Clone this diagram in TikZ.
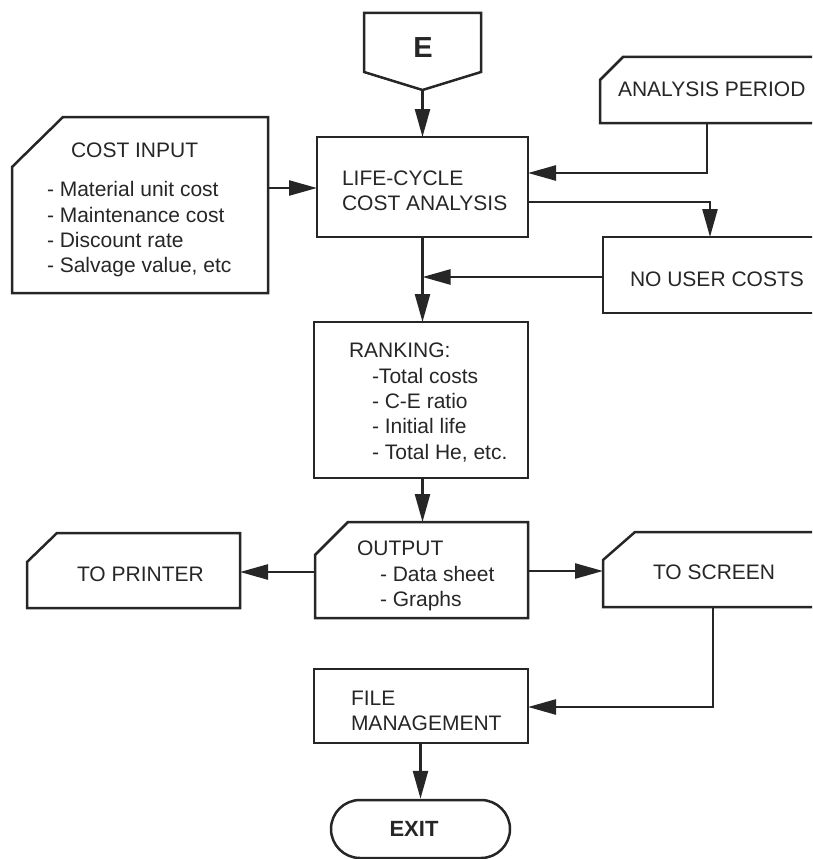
\documentclass[tikz,border=0pt]{standalone}
\usepackage{fontspec}
\setmainfont{Liberation Sans}
\usetikzlibrary{arrows.meta,calc}

\tikzset{
  box/.style={draw=none, inner sep=0pt, outer sep=0pt, anchor=north west},
  outline/.style={draw=black!85, line width=2.5pt, line join=miter},
  link/.style={draw=black!85, line width=2.5pt},
  arr/.style={link, -{Triangle[length=28pt,width=15pt]}},
  txt/.style={anchor=base west, inner sep=0pt, outer sep=0pt,
              font=\fontsize{21}{25}\selectfont, text=black!85},
}

% card shape: rectangle with the top-left corner cut off
\newcommand\cardbox[3]{%
  \draw[outline] ($(#1.north west)+(#2,0)$) -- (#1.north east) -- (#1.south east)
    -- (#1.south west) -- ($(#1.north west)+(0,#3)$) -- cycle;}

\begin{document}
\begin{tikzpicture}[x=1pt,y=-1pt]
\useasboundingbox (0,0) rectangle (812,859);
\clip (0,0) rectangle (812,859);

% ---- box frames -------------------------------------------------------
\node[box, minimum width=117pt, minimum height=77pt]  (E)     at (364,13)  {};
\node[box, minimum width=256pt, minimum height=176pt] (ci)    at (12,117)  {};
\node[box, minimum width=211pt, minimum height=100pt] (lcca)  at (317,137) {};
\node[box, minimum width=230pt, minimum height=66pt]  (ap)    at (600,57)  {};
\node[box, minimum width=230pt, minimum height=76pt]  (nuc)   at (603,237) {};
\node[box, minimum width=214pt, minimum height=156pt] (rank)  at (314,322) {};
\node[box, minimum width=213pt, minimum height=96pt]  (out)   at (315,522) {};
\node[box, minimum width=213pt, minimum height=75pt]  (prn)   at (27,533)  {};
\node[box, minimum width=230pt, minimum height=75pt]  (scr)   at (603,532) {};
\node[box, minimum width=214pt, minimum height=74pt]  (fm)    at (314,669) {};

% off-page connector E
\draw[outline] (E.north west) -- (E.north east) -- ($(E.north east)+(0,59)$)
  -- (E.south) -- ($(E.north west)+(0,59)$) -- cycle;
\node[inner sep=0pt, font=\bfseries\fontsize{29}{29}\selectfont, text=black!85] (elabel) at (423,48) {E};

\cardbox{ci}{51}{50}
\draw[outline] (lcca.north west) rectangle (lcca.south east);
\cardbox{ap}{23}{23}
\draw[outline] (nuc.north west) rectangle (nuc.south east);
\draw[outline] (rank.north west) rectangle (rank.south east);
\cardbox{out}{33}{33}
\cardbox{prn}{30}{29}
\cardbox{scr}{32}{28}
\draw[outline] (fm.north west) rectangle (fm.south east);

\node[draw=black!85, line width=2.5pt, rounded corners=29pt, minimum width=179pt,
      minimum height=58pt, inner sep=0pt] (exit) at (420.5,829) {};
\node[inner sep=0pt, font=\bfseries\fontsize{22}{22}\selectfont, text=black!85] (exitlabel) at (414,829) {EXIT};

% ---- texts --------------------------------------------------------------
\node[txt] (ci1) at (71,157) {COST INPUT};
\node[txt] (ci2) at (47,196) {- Material unit cost};
\node[txt] (ci3) at (47,222) {- Maintenance cost};
\node[txt] (ci4) at (47,247) {- Discount rate};
\node[txt] (ci5) at (47,272) {- Salvage value, etc};

\node[txt] (lc1) at (342,185) {LIFE-CYCLE};
\node[txt] (lc2) at (342,210) {COST ANALYSIS};

\node[txt] (ap1) at (618,96) {ANALYSIS PERIOD};
\node[txt] (nu1) at (630,286) {NO USER COSTS};

\node[txt] (rk1) at (349,357) {RANKING:};
\node[txt] (rk2) at (372,383) {-Total costs};
\node[txt] (rk3) at (372,408) {- C-E ratio};
\node[txt] (rk4) at (372,433) {- Initial life};
\node[txt] (rk5) at (372,459) {- Total He, etc.};

\node[txt] (ou1) at (357,555) {OUTPUT};
\node[txt] (ou2) at (380,581) {- Data sheet};
\node[txt] (ou3) at (380,606) {- Graphs};

\node[txt] (pr1) at (77,581) {TO PRINTER};
\node[txt] (sc1) at (653,579) {TO SCREEN};

\node[txt] (fm1) at (351,705) {FILE};
\node[txt] (fm2) at (351,730) {MANAGEMENT};

% ---- connectors ---------------------------------------------------------
\coordinate (apfoot)  at ($(ap.south west)+(107,0)$);
\coordinate (lcin)    at ($(lcca.north east)+(0,36)$);
\coordinate (lcout)   at ($(lcca.north east)+(0,65)$);
\coordinate (nuctop)  at ($(nuc.north west)+(107,0)$);
\coordinate (nucin)   at ($(nuc.north west)+(0,40)$);
\coordinate (scrfoot) at ($(scr.south west)+(110,0)$);
\coordinate (fmin)    at ($(fm.north east)+(0,38)$);

\draw[arr] (E.south) -- (lcca.north -| E.south);
\draw[arr] (ci.east |- 0,188) -- (lcca.west |- 0,188);
\draw[arr] (apfoot) |- (lcin);
\draw[arr] (lcout) -| (nuctop);
\draw[arr] (lcca.south -| E.south) -- (rank.north -| E.south);
\draw[arr] (nucin) -- (nucin -| E.south);
\draw[arr] (rank.south -| E.south) -- (out.north -| E.south);
\draw[arr] (out.west |- 0,572) -- (prn.east |- 0,572);
\draw[arr] (out.east |- 0,571) -- (scr.west |- 0,571);
\draw[arr] (scrfoot) |- (fmin);
\draw[arr] (fm.south -| exit.north) -- (exit.north);
\end{tikzpicture}
\end{document}
